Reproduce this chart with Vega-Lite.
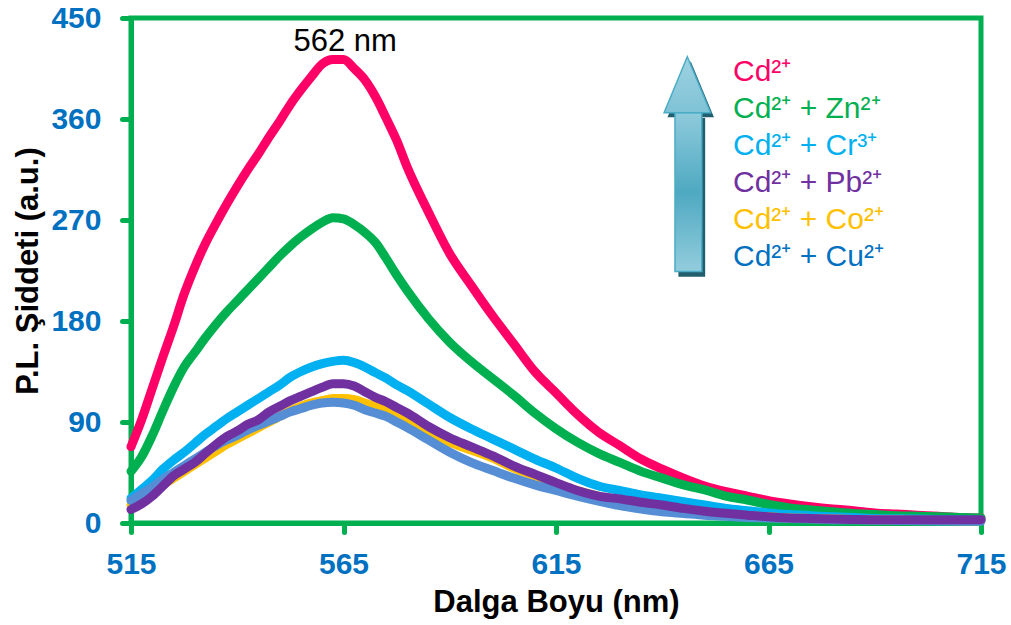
{
  "$schema": "https://vega.github.io/schema/vega-lite/v6.json",
  "width": 850,
  "height": 505,
  "autosize": "none",
  "padding": {"left": 131, "top": 18, "right": 30, "bottom": 102},
  "config": {
    "font": "Liberation Sans",
    "view": {"stroke": "#00B050", "strokeWidth": 5},
    "axis": {
      "domainColor": "#00B050", "domainWidth": 5, "domainCap": "round",
      "tickColor": "#00B050", "tickWidth": 5, "tickSize": 9, "tickCap": "round",
      "labelColor": "#0070C0", "labelFontSize": 30, "labelFontWeight": "bold", "labelFont": "Liberation Sans",
      "titleColor": "black", "titleFontSize": 31, "titleFontWeight": "bold", "titleFont": "Liberation Sans",
      "grid": false, "labelFlush": false, "labelOverlap": false
    }
  },
  "layer": [
    {
      "data": {"values": [
        {"x":515,"p":68,"g":46,"c":22,"v":12,"o":16,"b":20},
        {"x":517.5,"p":92,"g":59,"c":30,"v":17,"o":21,"b":26},
        {"x":520,"p":120,"g":78,"c":38,"v":24,"o":27,"b":32},
        {"x":522.5,"p":148,"g":100,"c":48,"v":33,"o":34,"b":39},
        {"x":525,"p":175,"g":121,"c":56,"v":42,"o":40,"b":45},
        {"x":527.5,"p":204,"g":139,"c":63,"v":48,"o":46,"b":51},
        {"x":530,"p":228,"g":152,"c":71,"v":54,"o":52,"b":57},
        {"x":532.5,"p":249,"g":165,"c":79,"v":62,"o":58,"b":63},
        {"x":535,"p":267,"g":177,"c":86,"v":70,"o":64,"b":69},
        {"x":537.5,"p":284,"g":188,"c":93,"v":77,"o":70,"b":74},
        {"x":540,"p":300,"g":198,"c":99,"v":82,"o":75,"b":78},
        {"x":542.5,"p":315,"g":208,"c":105,"v":88,"o":80,"b":83},
        {"x":545,"p":329,"g":218,"c":111,"v":92,"o":85,"b":87},
        {"x":547.5,"p":344,"g":228,"c":117,"v":99,"o":90,"b":91},
        {"x":550,"p":358,"g":238,"c":123,"v":104,"o":95,"b":95},
        {"x":552.5,"p":373,"g":247,"c":130,"v":109,"o":100,"b":99},
        {"x":555,"p":386,"g":255,"c":135,"v":113,"o":104,"b":102},
        {"x":557.5,"p":398,"g":262,"c":139,"v":117,"o":107,"b":105},
        {"x":560,"p":409,"g":268,"c":142,"v":121,"o":109,"b":107},
        {"x":562.5,"p":413,"g":272,"c":144,"v":124,"o":111,"b":107.5},
        {"x":565,"p":413,"g":271,"c":145,"v":124,"o":111,"b":107},
        {"x":567.5,"p":405,"g":266,"c":143,"v":122,"o":110,"b":105},
        {"x":570,"p":395,"g":259,"c":139,"v":117,"o":107,"b":101},
        {"x":572.5,"p":380,"g":250,"c":134,"v":112,"o":104,"b":98},
        {"x":575,"p":361,"g":236,"c":129,"v":108,"o":100,"b":95},
        {"x":577.5,"p":341,"g":221,"c":123,"v":103,"o":95,"b":90},
        {"x":580,"p":317,"g":207,"c":118,"v":98,"o":90,"b":85},
        {"x":585,"p":277,"g":182,"c":106,"v":86,"o":80,"b":74},
        {"x":590,"p":240,"g":161,"c":94,"v":76,"o":72,"b":63},
        {"x":595,"p":212,"g":144,"c":84,"v":68,"o":65,"b":54},
        {"x":600,"p":185,"g":129,"c":75,"v":60,"o":58,"b":47},
        {"x":605,"p":160,"g":114,"c":66,"v":51,"o":49,"b":40},
        {"x":610,"p":135,"g":98,"c":57,"v":43.5,"o":42,"b":34},
        {"x":615,"p":116,"g":84,"c":49,"v":36,"o":35,"b":29},
        {"x":620,"p":97,"g":72,"c":40,"v":29,"o":29,"b":24},
        {"x":625,"p":81,"g":62,"c":33,"v":24,"o":24,"b":19.5},
        {"x":630,"p":69,"g":54,"c":29,"v":21.5,"o":20.5,"b":15.5},
        {"x":635,"p":57,"g":46,"c":25,"v":18.5,"o":17.5,"b":12.5},
        {"x":640,"p":48,"g":40,"c":22,"v":16,"o":15,"b":10},
        {"x":645,"p":40,"g":34,"c":19,"v":13,"o":12.5,"b":8.5},
        {"x":650,"p":33,"g":29.5,"c":16,"v":10.5,"o":10,"b":7},
        {"x":655,"p":28,"g":24,"c":13,"v":8.6,"o":8,"b":6},
        {"x":660,"p":24,"g":20.5,"c":11,"v":7,"o":6.5,"b":5},
        {"x":665,"p":20,"g":16.5,"c":9,"v":5.5,"o":5.5,"b":4.5},
        {"x":670,"p":17,"g":13.5,"c":7.5,"v":4.5,"o":4.5,"b":4},
        {"x":675,"p":14.5,"g":11.6,"c":6.5,"v":4,"o":4,"b":3.5},
        {"x":680,"p":12.5,"g":10,"c":5.5,"v":3.5,"o":3.5,"b":3},
        {"x":685,"p":11,"g":8.5,"c":4.8,"v":3.2,"o":3.2,"b":2.8},
        {"x":690,"p":9,"g":7.5,"c":4,"v":3,"o":3,"b":2.5},
        {"x":695,"p":8,"g":6.5,"c":3.7,"v":3,"o":2.7,"b":2.3},
        {"x":700,"p":7,"g":6,"c":3.5,"v":3,"o":2.5,"b":2},
        {"x":705,"p":6,"g":5.5,"c":3,"v":3,"o":2.3,"b":1.8},
        {"x":710,"p":5,"g":5,"c":2.8,"v":3,"o":2.1,"b":1.6},
        {"x":715,"p":4.5,"g":4.5,"c":2.5,"v":3,"o":2,"b":1.5}
      ]},
      "transform": [{"fold": ["p","g","c","o","b","v"], "as": ["key","val"]}],
      "mark": {"type": "line", "strokeWidth": 9, "strokeCap": "round", "strokeJoin": "round", "interpolate": "monotone"},
      "encoding": {
        "x": {"field": "x", "type": "quantitative", "scale": {"domain": [515, 715], "nice": false, "zero": false},
              "axis": {"values": [515,565,615,665,715], "title": "Dalga Boyu (nm)", "labelPadding": 17, "titlePadding": 8}},
        "y": {"field": "val", "type": "quantitative", "scale": {"domain": [0, 450], "nice": false},
              "axis": {"values": [0,90,180,270,360,450], "title": "P.L. Şiddeti (a.u.)", "labelPadding": 21, "titlePadding": 6}},
        "color": {"field": "key", "type": "nominal",
          "scale": {"domain": ["p","g","c","v","o","b"], "range": ["#FF0066","#00B050","#00B0F0","#7030A0","#FFC000","#558ED5"]},
          "legend": {
            "title": null, "orient": "none", "legendX": 572, "legendY": 39, "padding": 0,
            "symbolSize": 0, "symbolOpacity": 0, "symbolStrokeWidth": 0, "labelOffset": 0,
            "labelFontSize": 30, "labelFont": "Liberation Sans", "labelLimit": 400, "rowPadding": 7,
            "labelExpr": "{'p':'Cd²⁺','g':'Cd²⁺ + Zn²⁺','c':'Cd²⁺ + Cr³⁺','v':'Cd²⁺ + Pb²⁺','o':'Cd²⁺ + Co²⁺','b':'Cd²⁺ + Cu²⁺'}[datum.value]",
            "encode": {"labels": {"update": {"fill": {"signal": "{'p':'#FF0066','g':'#00B050','c':'#00B0F0','v':'#7030A0','o':'#FFC000','b':'#0070C0'}[datum.value]"}}}}
          }
        }
      }
    },
    {
      "data": {"values": [{}]},
      "mark": {"type": "rect", "color": "#215E6E"},
      "encoding": {"x": {"datum": 643.8}, "x2": {"datum": 650.1}, "y": {"datum": 361}, "y2": {"datum": 219.5}}
    },
    {
      "data": {"values": [{}]},
      "mark": {"type": "point", "filled": true, "opacity": 1, "color": "#215E6E", "shape": "M-0.83,1L0.83,1L0,-1Z", "size": 3136},
      "encoding": {"x": {"datum": 646.7}, "y": {"datum": 386.5}}
    },
    {
      "data": {"values": [{}]},
      "mark": {"type": "rect", "stroke": "#4BACC6", "strokeWidth": 1.5,
        "color": {"gradient": "linear", "x1": 0, "y1": 0, "x2": 0, "y2": 1,
          "stops": [{"offset": 0, "color": "#8FCBDC"}, {"offset": 0.5, "color": "#4EA9C2"}, {"offset": 1, "color": "#93CDDD"}]}},
      "encoding": {"x": {"datum": 643.0}, "x2": {"datum": 649.3}, "y": {"datum": 365.7}, "y2": {"datum": 224}}
    },
    {
      "data": {"values": [{}]},
      "mark": {"type": "point", "filled": true, "opacity": 1, "stroke": "#4BACC6", "strokeWidth": 1.5, "shape": "M-0.83,1L0.83,1L0,-1Z", "size": 3136,
        "fill": {"gradient": "linear", "x1": 0, "y1": 0, "x2": 0, "y2": 1,
          "stops": [{"offset": 0, "color": "#9ED3E2"}, {"offset": 1, "color": "#7FC2D6"}]}},
      "encoding": {"x": {"datum": 645.9}, "y": {"datum": 390.6}}
    },
    {
      "data": {"values": [{}]},
      "mark": {"type": "text", "text": "562 nm", "fontSize": 31, "font": "Liberation Sans", "fontWeight": "normal", "fill": "black", "baseline": "middle", "align": "center"},
      "encoding": {"x": {"datum": 565.4}, "y": {"datum": 428.5}}
    }
  ]
}
